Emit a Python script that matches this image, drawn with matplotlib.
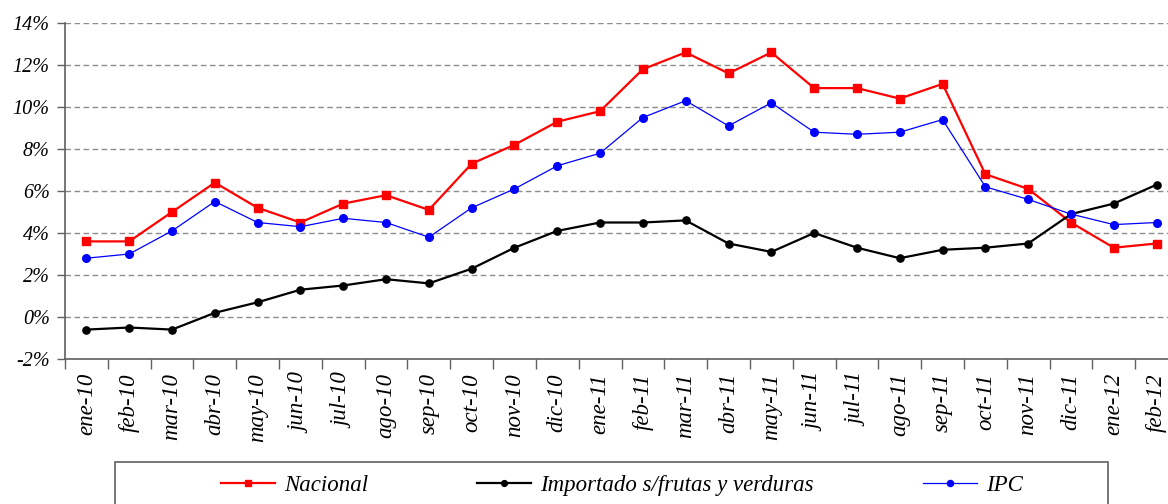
import matplotlib
matplotlib.use("Agg")
import matplotlib.pyplot as plt
from matplotlib.patches import Rectangle

months = ["ene-10", "feb-10", "mar-10", "abr-10", "may-10", "jun-10", "jul-10", "ago-10",
          "sep-10", "oct-10", "nov-10", "dic-10", "ene-11", "feb-11", "mar-11", "abr-11",
          "may-11", "jun-11", "jul-11", "ago-11", "sep-11", "oct-11", "nov-11", "dic-11",
          "ene-12", "feb-12"]
nacional = [3.6, 3.6, 5.0, 6.4, 5.2, 4.5, 5.4, 5.8, 5.1, 7.3, 8.2, 9.3, 9.8, 11.8, 12.6, 11.6,
            12.6, 10.9, 10.9, 10.4, 11.1, 6.8, 6.1, 4.5, 3.3, 3.5]
importado = [-0.6, -0.5, -0.6, 0.2, 0.7, 1.3, 1.5, 1.8, 1.6, 2.3, 3.3, 4.1, 4.5, 4.5, 4.6, 3.5,
             3.1, 4.0, 3.3, 2.8, 3.2, 3.3, 3.5, 4.9, 5.4, 6.3]
ipc = [2.8, 3.0, 4.1, 5.5, 4.5, 4.3, 4.7, 4.5, 3.8, 5.2, 6.1, 7.2, 7.8, 9.5, 10.3, 9.1,
       10.2, 8.8, 8.7, 8.8, 9.4, 6.2, 5.6, 4.9, 4.4, 4.5]
yticks = [-2, 0, 2, 4, 6, 8, 10, 12, 14]
series_names = ["Nacional", "Importado s/frutas y verduras", "IPC"]

plt.rcParams['font.family'] = ['Liberation Serif', 'DejaVu Serif']
W, H = 1168, 504
fig = plt.figure(figsize=(W / 100, H / 100), dpi=100)
ax = fig.add_axes([65 / W, 1 - 359 / H, (1178 - 65) / W, (359 - 23) / H])

x = list(range(len(months)))
ax.plot(x, nacional, color="#ff0000", lw=1.6, marker="s", ms=5.5, label=series_names[0], zorder=3)
ax.plot(x, importado, color="black", lw=1.6, marker="o", ms=5.2, label=series_names[1], zorder=3)
ax.plot(x, ipc, color="#0000ff", lw=0.9, marker="o", ms=5.5, label=series_names[2], zorder=3)

ax.set_xlim(-0.5, len(months) - 0.5)
ax.set_ylim(-2, 14)
ax.set_yticks(yticks)
ax.set_yticklabels([f"{v}%" for v in yticks], fontstyle="italic", fontsize=14.5)
ax.set_xticks(x)
ax.set_xticklabels(months, rotation=90, fontstyle="italic", fontsize=16.5)
ax.set_xticks([i - 0.5 for i in range(len(months) + 1)], minor=True)
ax.tick_params(axis="x", which="major", length=0, pad=10)
ax.tick_params(axis="x", which="minor", length=7, color="#606060", width=1)
ax.tick_params(axis="y", length=6, color="#606060", width=1, pad=5)

ax.grid(axis="y", color="#8c8c8c", linestyle=(0, (4, 2.5)), lw=1)
ax.set_axisbelow(True)
for s in ["top", "right"]:
    ax.spines[s].set_visible(False)
for s in ["left", "bottom"]:
    ax.spines[s].set_color("#606060")
    ax.spines[s].set_linewidth(1.2)

fig.patches.append(Rectangle((115 / W, -0.05), (1108 - 115) / W, 1 - 462 / H + 0.05,
                             transform=fig.transFigure, fill=False, edgecolor="#606060",
                             lw=1.2, zorder=0))
leg = fig.legend(loc="center", bbox_to_anchor=(622 / W, 1 - 485 / H), ncol=3, frameon=False,
                 prop={"style": "italic", "size": 16.5}, columnspacing=4.75, handlelength=2.35,
                 handletextpad=0.4, markerscale=0.8)

fig.savefig("out.png", dpi=100)
